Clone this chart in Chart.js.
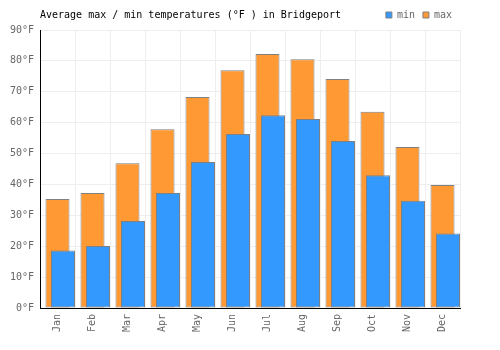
<!DOCTYPE html>
<html>
<head>
<meta charset="utf-8">
<script src="https://cdn.jsdelivr.net/npm/chart.js@4/dist/chart.umd.min.js"></script>
<style>
  html, body { margin: 0; padding: 0; background: #fff; }
  #wrap { width: 500px; height: 350px; }
</style>
</head>
<body>
<div id="wrap"><canvas id="grafica" width="500" height="350"></canvas></div>
<script>
const meses = ["Jan", "Feb", "Mar", "Apr", "May", "Jun", "Jul", "Aug", "Sep", "Oct", "Nov", "Dec"];
const tempMax = [35.3, 37.2, 46.9, 57.9, 68.3, 77.0, 82.2, 80.5, 74.1, 63.5, 52.1, 39.8];
const tempMin = [18.6, 20.1, 28.2, 37.2, 47.3, 56.3, 62.4, 61.2, 54.1, 43.0, 34.7, 24.1];
const titulo = "Average max / min temperatures (°F ) in Bridgeport";

Chart.defaults.font.family = "'DejaVu Sans Mono', monospace";
Chart.defaults.font.size = 10;

// titulo a la izquierda, en la misma linea que la leyenda
const tituloPlugin = {
  id: 'tituloIzq',
  afterDraw(chart) {
    const c = chart.ctx;
    const leg = chart.legend;
    c.save();
    c.font = "10px 'DejaVu Sans Mono', monospace";
    c.fillStyle = '#000';
    c.textBaseline = 'middle';
    c.textAlign = 'left';
    c.fillText(titulo, chart.chartArea.left, leg.top + 8 + 5);
    c.restore();
  }
};

const ctx = document.getElementById('grafica').getContext('2d');
const chart = new Chart(ctx, {
  type: 'bar',
  data: {
    labels: meses,
    datasets: [
      {
        label: '',
        data: [],
        order: 0
      },
      {
        label: 'min',
        data: tempMin,
        backgroundColor: '#3399ff',
        borderColor: '#808080',
        borderWidth: 1,
        borderSkipped: false,
        categoryPercentage: 0.6286,
        barPercentage: 2.1818,
        order: 1
      },
      {
        label: 'max',
        data: tempMax,
        backgroundColor: '#ff9933',
        borderColor: '#808080',
        borderWidth: 1,
        borderSkipped: false,
        grouped: false,
        categoryPercentage: 1,
        barPercentage: 0.686,
        order: 2
      }
    ]
  },
  options: {
    responsive: false,
    animation: false,
    layout: { padding: { left: 0, right: 40, top: 2, bottom: 0 } },
    plugins: {
      title: { display: false },
      tooltip: { enabled: false },
      legend: {
        position: 'top',
        align: 'end',
        fullSize: false,
        labels: {
          boxWidth: 6,
          boxHeight: 6,
          padding: 8,
          color: '#666',
          font: { size: 10 },
          filter: item => item.text !== ''
        }
      }
    },
    scales: {
      x: {
        grid: { color: '#eeeeee', drawTicks: false },
        border: { color: '#000', width: 1 },
        ticks: { color: '#666', padding: 6, minRotation: 90, maxRotation: 90, autoSkip: false },
        afterFit(scale) { scale.height = 42; }
      },
      y: {
        min: 0,
        max: 90,
        grid: { color: '#eeeeee', drawTicks: false },
        border: { color: '#000', width: 1 },
        ticks: {
          color: '#666',
          padding: 6,
          stepSize: 10,
          callback: v => v + '°F'
        },
        afterFit(scale) { scale.width = 40; }
      }
    }
  },
  plugins: [tituloPlugin]
});
</script>
</body>
</html>
